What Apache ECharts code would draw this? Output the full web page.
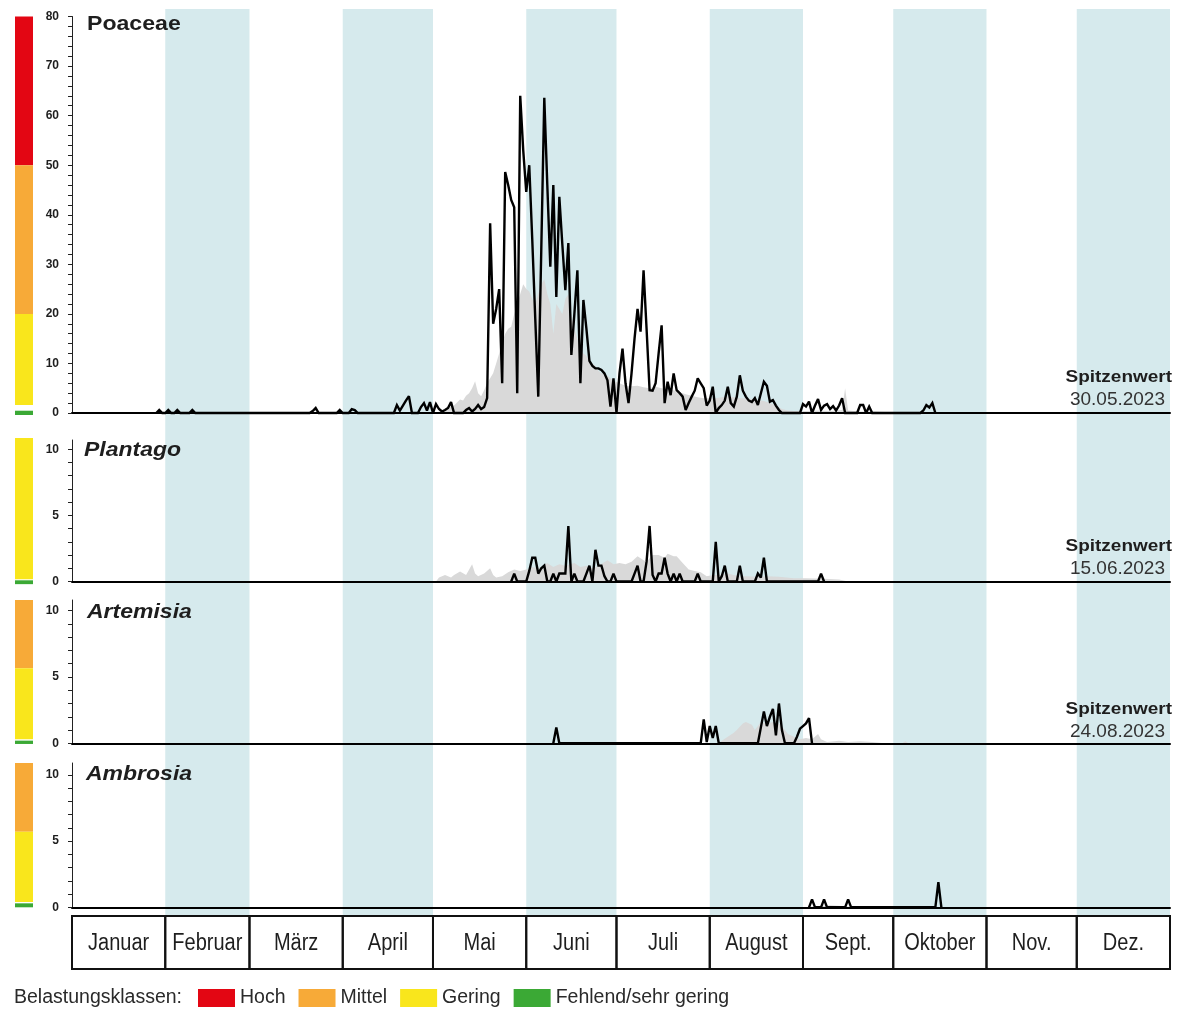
<!DOCTYPE html>
<html>
<head>
<meta charset="utf-8">
<script src="https://cdn.jsdelivr.net/npm/echarts@6/dist/echarts.min.js"></script>
<style>
  html, body { margin: 0; padding: 0; background: #fff; }
  #chart { width: 1178px; height: 1010px; }
</style>
</head>
<body>
<div id="chart"></div>
<script>
// ---- calendar ----
const monthNames = ['Januar', 'Februar', 'März', 'April', 'Mai', 'Juni', 'Juli', 'August', 'Sept.', 'Oktober', 'Nov.', 'Dez.'];
const monthLengths = [31, 28, 31, 30, 31, 30, 31, 31, 30, 31, 30, 31];
const shadedMonths = ['Februar', 'April', 'Juni', 'August', 'Oktober', 'Dez.'];

// ---- daily pollen counts 2023, [day of year (0 = 1 Jan), value] ----
const poaceaeDaily = [
  [28,0],[29,0.6],[30,0],[31,0],[32,0.6],[33,0],[34,0],[35,0.6],[36,0],[39,0],[40,0.6],[41,0],
  [79,0],[80,0.4],[81,1.0],[82,0],[88,0],[89,0.6],[90,0],[92,0],[93,0.8],[94,0.6],[95,0],
  [107,0],[108,1.6],[109,0.5],[110,1.5],[111,2.5],[112,3.4],[113,0],[115,0],[116,1.2],[117,2.0],[118,0.5],[119,2.2],[120,0],
  [121,1.8],[122,0.8],[123,0.3],[124,0.6],[125,1.0],[126,2.2],[127,0],[130,0],[131,0.6],[132,1.0],[133,0.3],[134,0.8],
  [135,1.6],[136,0.8],[137,1.2],[138,3.0],[139,38.3],[140,18],[141,21],[142,25],[143,6],[144,48.6],[145,46],[146,43],
  [147,41.5],[148,4],[149,64],[150,53],[151,44.6],[152,50],[153,35],[154,19],[155,3.3],[156,33],[157,63.6],[158,46],
  [159,29.5],[160,46],[161,23.4],[162,43.6],[163,34],[164,24.8],[165,34.3],[166,11.7],[167,20],[168,28.8],[169,6],
  [170,22.8],[171,17],[172,10.5],[173,9.5],[174,9],[175,9],[176,8.7],[177,8],[178,6.6],[179,1.3],[180,7],[181,0],
  [182,8],[183,13],[184,6],[185,2],[186,8],[187,15],[188,21],[189,16.4],[190,28.8],[191,17],[192,4.6],[193,4.5],
  [194,6],[195,12],[196,17.7],[197,2],[198,6.3],[199,3.6],[200,8],[201,4.6],[202,4],[203,3.3],[204,0.6],[205,2],
  [206,3.3],[207,4.5],[208,7],[209,6],[210,5],[211,1.5],[212,2.5],[213,5.3],[214,0],[215,1],[216,1.6],[217,2.5],
  [218,5.3],[219,2],[220,1.3],[221,3.3],[222,7.6],[223,4.5],[224,3.3],[225,2.5],[226,2.2],[227,3],[228,1.6],[229,4],
  [230,6.3],[231,5.5],[232,2.3],[233,2.6],[234,1.5],[235,0.6],[236,0],
  [242,0],[243,1.8],[244,1.3],[245,2.3],[246,0],[247,1.5],[248,2.8],[249,0.6],[250,1.5],[251,1.8],[252,0.8],[253,1.4],
  [254,0.5],[255,1.5],[256,3],[257,0],[261,0],[262,1.6],[263,1.6],[264,0],[265,1.3],[266,0],
  [282,0],[283,0.5],[284,1.6],[285,1.1],[286,2.0],[287,0]
];
const plantagoDaily = [
  [146,0],[147,0.6],[148,0],[151,0],[152,0.8],[153,1.8],[154,1.8],[155,0.6],[156,1.0],[157,1.2],[158,0],[159,0],
  [160,0.6],[161,0],[162,0.6],[163,0.6],[164,0.6],[165,4.2],[166,0],[167,0.6],[168,0],[170,0],[171,0.6],[172,1.2],
  [173,0],[174,2.4],[175,1.2],[176,1.2],[177,0.4],[178,0],[179,0],[180,0.6],[181,0],[186,0],[187,0.6],[188,1.2],
  [189,0],[190,0],[191,1.5],[192,4.2],[193,0.5],[194,0],[195,0.6],[196,0.6],[197,1.8],[198,0.6],[199,0],[200,0.6],
  [201,0],[202,0.6],[203,0],[207,0],[208,0.6],[209,0],[213,0],[214,3.0],[215,0],[216,0.4],[217,1.2],[218,0],
  [221,0],[222,1.2],[223,0],[227,0],[228,0.6],[229,0.3],[230,1.8],[231,0],[248,0],[249,0.6],[250,0]
];
const artemisiaDaily = [
  [160,0],[161,1.2],[162,0],
  [209,0],[210,1.8],[211,0.1],[212,1.3],[213,0.4],[214,1.3],[215,0],
  [228,0],[229,1.2],[230,2.4],[231,1.3],[232,2.0],[233,2.6],[234,0.6],[235,3.0],[236,1.0],[237,0],
  [240,0],[241,0.5],[242,1.1],[243,1.3],[244,1.5],[245,1.9],[246,0]
];
const ambrosiaDaily = [
  [245,0],[246,0.6],[247,0],[249,0],[250,0.6],[251,0],[257,0],[258,0.6],[259,0],[287,0],[288,1.9],[289,0]
];

// ---- long-term mean (grey area), [day of year, value] ----
const poaceaeMean = [
  [120,0],[123,0.4],[125,1],[127,1.5],[129,2.7],[130,2.5],[131,3.5],[132,4],[133,5],[134,6.4],[135,4],[136,3.4],
  [137,4.6],[138,6],[139,7],[140,8],[141,10],[142,12],[143,14],[144,16],[145,17],[146,17.4],[147,20],[148,22],
  [149,24],[150,26],[151,25],[152,24.5],[153,23],[154,22],[155,24],[156,26],[157,27],[158,24],[159,22],[160,16],
  [161,22],[162,21],[163,20],[164,23],[165,24],[166,20],[167,17],[168,15],[169,12.7],[170,12],[171,11.5],[172,10.5],
  [173,10],[174,9.5],[175,8.5],[176,8],[178,7.5],[180,6.5],[182,6],[184,5.5],[186,5.4],[188,5.5],[190,5.2],[192,5],
  [194,5.3],[196,5],[198,4.8],[200,4.6],[202,4.2],[204,3.8],[206,3.5],[208,3.2],[210,3],[212,3],[214,3],[216,3.2],
  [218,3.4],[220,3.2],[222,3],[224,3],[226,2.8],[228,2.6],[230,2.4],[232,2],[234,1.5],[236,0.8],[238,0.5],[240,0.4],
  [244,0.4],[248,0.5],[252,0.4],[256,0.6],[257,5],[258,0.5],[262,0.3],[266,0.3],[270,0.2],[280,0.1],[290,0]
];
const plantagoMean = [
  [121,0],[122,0.3],[124,0.5],[126,0.3],[127,0.5],[129,0.75],[131,0.5],[133,1.3],[134,0.6],[135,0.4],[137,0.6],
  [139,1.0],[140,0.5],[141,0.3],[143,0.4],[145,0.7],[147,0.9],[149,0.8],[151,0.9],[153,1.1],[155,1.0],[158,1.4],
  [160,1.1],[162,1.3],[164,1.2],[167,1.4],[169,1.1],[171,1.2],[173,1.0],[175,1.2],[178,1.6],[180,1.3],[182,1.4],
  [184,1.3],[186,1.5],[188,1.9],[190,1.6],[191,1.5],[193,2.0],[195,2.0],[197,1.8],[198,2.1],[200,1.9],[201,1.9],
  [203,1.4],[205,0.9],[207,0.8],[209,0.7],[211,0.4],[213,0.5],[215,0.5],[218,0.6],[220,0.5],[222,0.4],[224,0.4],
  [228,0.35],[231,0.4],[235,0.35],[240,0.25],[244,0.25],[250,0.2],[255,0.15],[258,0]
];
const artemisiaMean = [
  [215,0],[216,0.2],[218,0.5],[220,0.8],[221,1.0],[223,1.5],[224,1.6],[226,1.4],[227,1.0],[229,1.6],[231,1.5],
  [233,1.6],[235,1.5],[237,1.0],[238,0.7],[240,0.5],[242,0.3],[244,0.4],[246,0.3],[248,0.7],[249,0.3],[251,0.1],
  [255,0.2],[258,0.1],[262,0.15],[266,0.1],[270,0],[276,0],[277,0.15],[278,0]
];
const ambrosiaMean = [
  [244,0],[248,0.1],[252,0.15],[256,0.1],[260,0]
];

// ---- exposure classes per taxon: [class, from, to] ----
const classNames = ['Hoch', 'Mittel', 'Gering', 'Fehlend/sehr gering'];
const poaceaeClasses = [['Hoch',50,80],['Mittel',20,50],['Gering',1.6,20],['Fehlend/sehr gering',-0.4,0.46]];
const plantagoClasses = [['Gering',0.17,10.85],['Fehlend/sehr gering',-0.2,0.09]];
const artemisiaClasses = [['Mittel',5.66,10.8],['Gering',0.3,5.66],['Fehlend/sehr gering',-0.05,0.2]];
const ambrosiaClasses = [['Mittel',5.71,10.9],['Gering',0.4,5.71],['Fehlend/sehr gering',0,0.3]];

// ---- peak dates ----
const poaceaePeak = '30.05.2023';
const plantagoPeak = '15.06.2023';
const artemisiaPeak = '24.08.2023';

// ---- styling ----
const classColors = { 'Hoch': '#e30613', 'Mittel': '#f7aa38', 'Gering': '#f9e61c', 'Fehlend/sehr gering': '#3ba935' };
const FONT = 'Arial, "Liberation Sans", Helvetica, sans-serif';
const SHADE = '#d6eaed';
const MEAN_FILL = '#d9d9d9';
const INK = '#1e1e1e';

const panels = [
  { title: 'Poaceae', italic: false, top: 16.5, height: 396.5, max: 80, tickStep: 2, labelStep: 10,
    daily: poaceaeDaily, mean: poaceaeMean, classes: poaceaeClasses, peak: poaceaePeak,
    titleX: 87, titleY: 24.5, titleSize: 21, titleScale: 1.1, peakY: [377.5, 400] },
  { title: 'Plantago', italic: true, top: 440, height: 141.5, max: 10.7, tickStep: 1, labelStep: 5,
    daily: plantagoDaily, mean: plantagoMean, classes: plantagoClasses, peak: plantagoPeak,
    titleX: 84, titleY: 450, titleSize: 20, titleScale: 1.15, peakY: [546, 568.5] },
  { title: 'Artemisia', italic: true, top: 600, height: 143.3, max: 10.8, tickStep: 1, labelStep: 5,
    daily: artemisiaDaily, mean: artemisiaMean, classes: artemisiaClasses, peak: artemisiaPeak,
    titleX: 87, titleY: 612.5, titleSize: 20, titleScale: 1.15, peakY: [709, 731.5] },
  { title: 'Ambrosia', italic: true, top: 763, height: 144.3, max: 10.9, tickStep: 1, labelStep: 5,
    daily: ambrosiaDaily, mean: ambrosiaMean, classes: ambrosiaClasses, peak: null,
    titleX: 86, titleY: 774.5, titleSize: 20, titleScale: 1.15, peakY: null }
];

// month spans in days of year
const monthSpans = [];
monthLengths.reduce((start, len, i) => { monthSpans.push([start, start + len, monthNames[i]]); return start + len; }, 0);
const yearLength = monthSpans[monthSpans.length - 1][1];

const PLOT_LEFT = 72, PLOT_RIGHT = 8;

const grids = [], xAxes = [], yAxes = [], series = [];

// grid 0: background month shading behind all panels
grids.push({ left: PLOT_LEFT, right: PLOT_RIGHT, top: 9, height: 906 });
xAxes.push({ gridIndex: 0, type: 'value', min: 0, max: yearLength, show: false });
yAxes.push({ gridIndex: 0, type: 'value', min: 0, max: 1, show: false });
series.push({
  type: 'custom', name: 'shade', xAxisIndex: 0, yAxisIndex: 0, z: 1, silent: true,
  data: monthSpans.filter(m => shadedMonths.includes(m[2])).map(m => [m[0], m[1]]),
  renderItem: (params, api) => {
    const a = api.coord([api.value(0), 1]);
    const b = api.coord([api.value(1), 0]);
    return { type: 'rect', shape: { x: a[0], y: a[1], width: b[0] - a[0], height: b[1] - a[1] }, style: { fill: SHADE } };
  }
});

// grids 1..4: pollen panels
panels.forEach((p, i) => {
  const g = grids.length;
  grids.push({ left: PLOT_LEFT, right: PLOT_RIGHT, top: p.top, height: p.height });
  xAxes.push({
    gridIndex: g, type: 'value', min: 0, max: yearLength, z: 3,
    axisLine: { show: true, onZero: true, lineStyle: { color: '#000', width: 2 } },
    axisTick: { show: false }, axisLabel: { show: false }, splitLine: { show: false }
  });
  const tickValues = [];
  for (let v = 0; v <= p.max + 1e-9; v += p.tickStep) tickValues.push(Math.round(v * 100) / 100);
  const labelValues = tickValues.filter(v => Math.abs(v / p.labelStep - Math.round(v / p.labelStep)) < 1e-6);
  yAxes.push({
    gridIndex: g, type: 'value', min: 0, max: p.max, interval: p.tickStep, z: 3,
    axisLine: { show: true, lineStyle: { color: '#222', width: 1 } },
    axisTick: { show: true, length: 4, lineStyle: { color: '#222', width: 1 }, customValues: tickValues },
    axisLabel: {
      show: true, margin: 13, fontFamily: FONT, fontWeight: 'bold', fontSize: 12, color: INK,
      customValues: labelValues,
      formatter: v => labelValues.some(l => Math.abs(l - v) < 1e-6) ? String(v) : ''
    },
    splitLine: { show: false }
  });
  series.push({
    type: 'line', name: p.title + ' Mittelwert', xAxisIndex: g, yAxisIndex: g, data: p.mean,
    symbol: 'none', showSymbol: false, silent: true, clip: false, z: 2,
    lineStyle: { width: 0, opacity: 0 }, areaStyle: { color: MEAN_FILL, opacity: 1 }
  });
  series.push({
    type: 'line', name: p.title + ' 2023', xAxisIndex: g, yAxisIndex: g, data: p.daily,
    symbol: 'none', showSymbol: false, silent: true, clip: false, z: 4,
    lineStyle: { color: '#000', width: 2.4, join: 'miter', miterLimit: 2.5 }
  });
});

// grids 5..8: exposure class bars left of each panel
const bandRender = (params, api) => {
  const a = api.coord([0, api.value(1)]);
  const b = api.coord([1, api.value(0)]);
  return { type: 'rect', shape: { x: a[0], y: a[1], width: b[0] - a[0], height: b[1] - a[1] }, style: { fill: api.visual('color') } };
};
panels.forEach(p => {
  const g = grids.length;
  grids.push({ left: 15, width: 18, top: p.top, height: p.height });
  xAxes.push({ gridIndex: g, type: 'value', min: 0, max: 1, show: false });
  yAxes.push({ gridIndex: g, type: 'value', min: 0, max: p.max, show: false });
  p.classes.forEach(c => {
    series.push({
      type: 'custom', name: c[0], xAxisIndex: g, yAxisIndex: g, silent: true, z: 2,
      itemStyle: { color: classColors[c[0]] },
      data: [[c[1], c[2]]], renderItem: bandRender
    });
  });
});

// grid 9: month table under the panels
{
  const g = grids.length;
  grids.push({ left: PLOT_LEFT, right: PLOT_RIGHT, top: 916, height: 53 });
  xAxes.push({ gridIndex: g, type: 'value', min: 0, max: yearLength, show: false });
  yAxes.push({ gridIndex: g, type: 'value', min: 0, max: 1, show: false });
  series.push({
    type: 'custom', name: 'Monate', xAxisIndex: g, yAxisIndex: g, silent: true, z: 3,
    data: monthSpans.map(m => [m[0], m[1]]),
    renderItem: (params, api) => {
      const a = api.coord([api.value(0), 1]);
      const b = api.coord([api.value(1), 0]);
      return {
        type: 'group',
        children: [
          { type: 'rect', shape: { x: a[0], y: a[1], width: b[0] - a[0], height: b[1] - a[1] },
            style: { fill: 'none', stroke: '#111', lineWidth: 2 } },
          { type: 'text', x: (a[0] + b[0]) / 2, y: (a[1] + b[1]) / 2 + 1, scaleX: 0.87,
            style: { text: monthNames[params.dataIndex], fontFamily: FONT, fontSize: 23, fill: INK,
                     align: 'center', verticalAlign: 'middle' } }
        ]
      };
    }
  });
}

// texts: taxon names, peak markers, legend caption
const graphics = [];
panels.forEach(p => {
  graphics.push({
    type: 'text', x: p.titleX, y: p.titleY, scaleX: p.titleScale, z: 20,
    style: { text: p.title, fontFamily: FONT, fontSize: p.titleSize, fontWeight: 'bold',
             fontStyle: p.italic ? 'italic' : 'normal', fill: INK, align: 'left', verticalAlign: 'middle' }
  });
  if (p.peak) {
    graphics.push({
      type: 'text', x: 1172, y: p.peakY[0], scaleX: 1.15, z: 20,
      style: { text: 'Spitzenwert', fontFamily: FONT, fontSize: 16.5, fontWeight: 'bold', fill: INK,
               align: 'right', verticalAlign: 'middle' }
    });
    graphics.push({
      type: 'text', x: 1165, y: p.peakY[1], z: 20,
      style: { text: p.peak, fontFamily: FONT, fontSize: 19, fill: '#333', align: 'right', verticalAlign: 'middle' }
    });
  }
});
graphics.push({
  type: 'text', x: 14, y: 998, z: 20,
  style: { text: 'Belastungsklassen:', fontFamily: FONT, fontSize: 19.5, fill: '#2a2a2a', align: 'left', verticalAlign: 'middle' }
});

const chart = echarts.init(document.getElementById('chart'), null, { renderer: 'canvas', width: 1178, height: 1010 });
chart.setOption({
  animation: false,
  backgroundColor: '#fff',
  grid: grids,
  xAxis: xAxes,
  yAxis: yAxes,
  legend: {
    data: classNames.map(n => ({ name: n, icon: 'rect' })),
    left: 198, top: 988, itemWidth: 37, itemHeight: 18, itemGap: 13, padding: 0,
    selectedMode: false,
    textStyle: { fontFamily: FONT, fontSize: 19.5, color: '#2a2a2a' }
  },
  graphic: graphics,
  series: series
});
</script>
</body>
</html>
